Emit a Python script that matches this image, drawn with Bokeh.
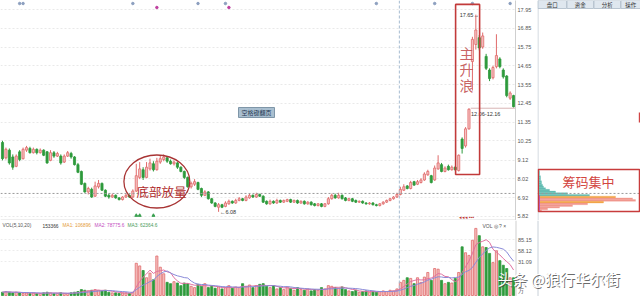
import numpy as np
import pandas as pd
from bokeh.plotting import figure
from bokeh.models import (Range1d, FixedTicker, PrintfTickFormatter, Span, Label,
                          BoxAnnotation, ColumnDataSource)
from bokeh.layouts import row, column
from bokeh.embed import file_html
from bokeh.resources import INLINE

# ---------------- data ----------------
opens = [10.15, 9.25, 9.70, 9.30, 8.75, 9.60, 9.20, 9.70, 9.80, 9.55,
         9.75, 9.55, 9.70, 9.60, 9.10, 9.55, 9.35, 9.35, 9.00, 9.35,
         9.50, 9.30, 8.85, 8.45, 7.75, 7.25, 7.40, 7.00, 7.55, 7.75,
         7.35, 7.05, 6.95, 7.05, 6.90, 6.80, 6.95, 7.05, 6.95, 7.30,
         8.10, 8.55, 8.10, 8.60, 8.90, 8.55, 9.00, 9.15, 9.25, 9.05,
         8.90, 8.95, 8.70, 8.45, 8.10, 7.55, 7.70, 7.80, 7.45, 7.05,
         7.25, 6.85, 6.60, 6.35, 6.50, 6.40, 6.55, 6.70, 6.60, 6.75,
         6.85, 6.75, 6.90, 7.05, 6.95, 7.10, 7.00, 6.70, 6.55, 6.70,
         6.60, 6.75, 6.65, 6.70, 6.80, 6.65, 6.75, 6.60, 6.70, 6.55,
         6.65, 6.55, 6.45, 6.55, 6.40, 6.55, 6.85, 7.05, 6.90, 7.05,
         6.90, 6.75, 6.85, 6.75, 6.65, 6.70, 6.60, 6.55, 6.60, 6.50,
         6.45, 6.55, 6.65, 6.75, 6.85, 6.95, 7.10, 7.35, 7.60, 7.45,
         7.85, 7.70, 7.80, 7.95, 8.25, 8.20, 7.95, 8.60, 8.85, 8.45,
         8.75, 8.55, 8.70, 8.50, 10.35, 9.95, 10.95, 14.90, 15.90, 16.30,
         15.75, 15.20, 14.40, 13.95, 14.60, 15.05, 14.40, 14.05, 12.75, 12.90]
closes = [9.20, 9.75, 8.95, 8.70, 9.35, 9.15, 9.75, 9.85, 9.55, 9.75,
          9.55, 9.70, 9.40, 8.95, 9.55, 9.35, 9.50, 8.95, 9.35, 9.55,
          9.30, 8.85, 8.40, 7.70, 7.25, 7.45, 6.95, 7.60, 7.75, 7.35,
          7.00, 6.95, 7.05, 6.90, 6.80, 6.95, 7.05, 6.95, 7.30, 8.20,
          8.60, 8.10, 8.70, 8.95, 8.55, 9.05, 9.20, 9.30, 9.05, 8.90,
          9.00, 8.70, 8.45, 8.10, 7.55, 7.75, 7.85, 7.40, 7.05, 7.25,
          6.85, 6.60, 6.40, 6.50, 6.35, 6.60, 6.70, 6.60, 6.75, 6.85,
          6.75, 6.95, 7.05, 6.95, 7.10, 7.00, 6.65, 6.55, 6.70, 6.60,
          6.75, 6.65, 6.75, 6.80, 6.65, 6.75, 6.60, 6.70, 6.55, 6.65,
          6.50, 6.45, 6.55, 6.40, 6.55, 6.85, 7.05, 6.90, 7.05, 6.85,
          6.75, 6.85, 6.70, 6.65, 6.70, 6.60, 6.55, 6.60, 6.50, 6.45,
          6.55, 6.65, 6.75, 6.85, 6.95, 7.10, 7.40, 7.55, 7.45, 7.80,
          7.65, 7.85, 7.95, 8.30, 8.45, 7.80, 8.65, 8.95, 8.45, 8.65,
          8.55, 8.70, 8.55, 9.40, 9.80, 10.95, 12.10, 16.20, 16.75, 15.70,
          16.40, 14.50, 13.90, 14.55, 15.25, 14.60, 14.00, 12.90, 13.05, 12.25]
highs = [10.25, 9.85, 9.80, 9.45, 9.45, 9.70, 9.85, 9.95, 9.90, 9.85,
         9.80, 9.80, 9.75, 9.65, 9.70, 9.65, 9.60, 9.45, 9.45, 9.65,
         9.60, 9.35, 8.95, 8.50, 7.80, 7.55, 7.50, 7.85, 7.95, 7.80,
         7.40, 7.15, 7.15, 7.10, 6.95, 7.00, 7.15, 7.10, 7.40, 8.90,
         9.00, 8.70, 9.00, 9.20, 9.05, 9.25, 9.40, 9.45, 9.35, 9.15,
         9.10, 9.00, 8.75, 8.50, 8.15, 7.85, 8.00, 7.85, 7.50, 7.35,
         7.30, 6.90, 6.65, 6.60, 6.55, 6.70, 6.80, 6.75, 6.85, 6.95,
         6.90, 7.05, 7.15, 7.10, 7.20, 7.15, 7.05, 6.75, 6.80, 6.75,
         6.85, 6.80, 6.80, 6.85, 6.85, 6.80, 6.80, 6.75, 6.75, 6.70,
         6.70, 6.60, 6.60, 6.60, 6.60, 6.95, 7.15, 7.15, 7.20, 7.10,
         6.95, 6.90, 6.90, 6.80, 6.75, 6.75, 6.65, 6.65, 6.65, 6.55,
         6.60, 6.70, 6.80, 6.90, 7.00, 7.20, 7.55, 7.70, 7.65, 7.90,
         7.90, 7.95, 8.05, 8.40, 8.55, 8.25, 8.80, 9.40, 8.95, 8.75,
         8.85, 8.80, 8.75, 9.45, 10.45, 11.05, 12.16, 16.35, 17.65, 16.45,
         16.60, 15.35, 14.50, 14.65, 16.50, 15.15, 14.50, 14.10, 13.15, 12.95]
lows = [9.10, 9.15, 8.85, 8.55, 8.70, 9.05, 9.15, 9.60, 9.50, 9.50,
        9.45, 9.50, 9.35, 8.90, 9.05, 9.25, 9.30, 8.85, 8.95, 9.30,
        9.20, 8.80, 8.35, 7.65, 7.20, 7.10, 6.90, 6.95, 7.45, 7.30,
        6.95, 6.85, 6.90, 6.85, 6.75, 6.75, 6.90, 6.90, 6.90, 7.25,
        8.00, 7.95, 8.05, 8.50, 8.45, 8.50, 8.90, 9.05, 8.95, 8.85,
        8.80, 8.60, 8.40, 8.00, 7.50, 7.45, 7.60, 7.35, 6.95, 7.00,
        6.80, 6.55, 6.35, 6.08, 6.30, 6.35, 6.50, 6.55, 6.55, 6.70,
        6.70, 6.70, 6.85, 6.90, 6.90, 6.95, 6.60, 6.50, 6.50, 6.55,
        6.55, 6.60, 6.60, 6.65, 6.60, 6.60, 6.55, 6.55, 6.50, 6.50,
        6.45, 6.40, 6.40, 6.35, 6.35, 6.50, 6.80, 6.85, 6.85, 6.80,
        6.70, 6.70, 6.65, 6.60, 6.60, 6.55, 6.50, 6.50, 6.45, 6.40,
        6.40, 6.50, 6.60, 6.70, 6.80, 6.90, 7.05, 7.30, 7.40, 7.40,
        7.60, 7.65, 7.75, 7.90, 8.20, 7.75, 7.90, 8.55, 8.40, 8.40,
        8.50, 8.50, 8.50, 8.45, 9.50, 9.85, 10.90, 13.20, 15.60, 15.55,
        15.65, 14.40, 13.75, 13.85, 14.50, 14.50, 13.90, 12.80, 12.65, 12.20]
volumes = [5, 6, 5, 4, 5, 4, 3, 4, 3, 4,
           3, 3, 4, 5, 4, 3, 3, 4, 3, 3,
           4, 5, 6, 9, 8, 7, 8, 9, 8, 7,
           8, 5, 4, 4, 3, 4, 4, 3, 5, 49,
           45, 38, 27, 34, 24, 60, 43, 33, 20, 18,
           21, 19, 15, 19, 18, 14, 12, 17, 14, 18,
           12, 14, 11, 13, 10, 12, 15, 11, 13, 12,
           18, 14, 16, 12, 15, 17, 18, 14, 12, 15,
           10, 12, 9, 13, 11, 8, 12, 9, 8, 10,
           7, 9, 8, 12, 10, 15, 14, 12, 11, 13,
           9, 7, 6, 8, 5, 6, 7, 5, 6, 5,
           6, 7, 6, 8, 7, 10, 20, 23, 27, 26,
           18, 27, 20, 28, 35, 23, 41, 40, 23, 18,
           20, 19, 26, 35, 74, 65, 61, 84, 102, 91,
           74, 73, 64, 50, 68, 53, 46, 41, 27, 27]

price_ticks = [17.95, 16.85, 15.75, 14.65, 13.55, 12.45, 11.35, 10.25, 9.12, 8.02, 6.92, 5.82]
vol_tick_labels = ["85.15", "58.12", "31.09", "万"]
vol_header = ["VOL(5,10,20)", "153366", "MA1: 106896", "MA2: 78775.6", "MA3: 62364.6"]
tab_names = ["盘口", "资金", "分析", "操作"]

chip_price = [8.45, 8.35, 8.25, 8.15, 8.05, 7.95, 7.85, 7.75, 7.65, 7.55, 7.45, 7.35,
              7.25, 7.15, 7.05, 6.95, 6.85, 6.75, 6.65, 6.55, 6.45, 6.35, 6.25, 6.15]
chip_width = [2, 2, 2, 3, 3, 3, 4, 4, 5, 6, 8, 12,
              18, 30, 52, 78, 95, 98, 66, 50, 35, 22, 10, 4]
chip_kind = ["t"] * 15 + ["o", "p", "p", "o", "p", "p", "p", "p", "p"]

event_blue = [5, 6, 38, 57, 65, 109, 126, 137, 148]
event_mag = [45, 66]
cost_line = 7.16
cursor_idx = 115.7

# ---------------- helpers for annotation placement ----------------
PX = 3.43   # pixels per candle
def ix(px):  # pixel x -> candle index
    return (px - 2) / PX
def pp(py):  # pixel y -> price
    return 18.48 - py * 0.05867
def vv(py):  # pixel y (page) -> volume units
    return (295 - py) * 1.52

n = len(closes)
idx = list(range(n))
up = [c >= o for o, c in zip(opens, closes)]
RED_FILL, RED_LINE, GREEN = "#f6c2c2", "#e06a6a", "#2e9a3c"

src = ColumnDataSource(dict(
    x=idx, high=highs, low=lows,
    top=[max(o, c) for o, c in zip(opens, closes)],
    bottom=[min(o, c) for o, c in zip(opens, closes)],
    fill=[RED_FILL if u else GREEN for u in up],
    line=[RED_LINE if u else GREEN for u in up],
    vol=volumes,
))

x0 = ix(0)
xr = Range1d(x0, x0 + 515 / PX)
yr = Range1d(pp(220), pp(0))

def box(**kw):
    return BoxAnnotation(fill_alpha=kw.pop("fill_alpha", 1), line_alpha=1, **kw)

# ---------------- price figure ----------------
p = figure(width=537, height=220, x_range=xr, y_range=yr, output_backend="svg",
           toolbar_location=None, x_axis_type=None, y_axis_location="right",
           min_border_left=0, min_border_right=22, min_border_top=0, min_border_bottom=0,
           outline_line_color=None, background_fill_color="white", border_fill_color="white")
p.yaxis.ticker = FixedTicker(ticks=price_ticks)
p.yaxis.formatter = PrintfTickFormatter(format="%.2f")
p.yaxis.major_tick_out = 0
p.yaxis.major_tick_in = 0
p.yaxis.minor_tick_line_color = None
p.yaxis.axis_line_color = "#cfcfcf"
p.yaxis.major_label_standoff = 2
p.yaxis.major_label_text_font = "Liberation Sans"
p.yaxis.major_label_text_font_size = "5.5px"
p.yaxis.major_label_text_color = "#555555"
p.ygrid.ticker = FixedTicker(ticks=price_ticks)
p.ygrid.grid_line_color = "#e9e9e9"
p.ygrid.grid_line_dash = "2 2"
p.xgrid.grid_line_color = None

p.add_layout(Span(location=cost_line, dimension="width", line_color="#9a9a9a",
                  line_dash="2 2", line_width=1))
p.add_layout(Span(location=cursor_idx, dimension="height", line_color="#a6bbd0",
                  line_dash="3 2", line_width=1))
p.add_layout(Span(location=pp(219.5), dimension="width", line_color="#dcdcdc", line_width=1))

p.segment(x0="x", y0="high", x1="x", y1="low", line_color="line", line_width=1, source=src)
p.vbar(x="x", top="top", bottom="bottom", width=0.62, fill_color="fill",
       line_color="line", line_width=0.8, source=src)

# event markers
p.scatter(x=event_blue, y=[pp(3)] * len(event_blue), size=2.5, color="#8c9fbf", marker="circle")
p.scatter(x=event_mag, y=[pp(7)] * len(event_mag), size=2.5, color="#c040a0", marker="circle")
p.scatter(x=[39, 40, 44], y=[pp(215)] * 3, size=3, color="#3aa050", marker="triangle")
p.add_layout(Label(x=133, y=pp(216), text="◂◂◂ ▪▪▪", text_font_size="5px",
                   text_color="#c03a3a", text_baseline="middle"))

# gap marker
gap_top = highs[136]
p.segment(x0=[136.5], y0=[gap_top], x1=[n - 0.6], y1=[gap_top], line_color="#d8b4b4", line_width=1)
p.add_layout(Label(x=136.6, y=pp(113), text="12.06-12.16", text_font="Liberation Sans",
                   text_font_size="5.5px", text_color="#333333", text_baseline="middle"))
imax = int(np.argmax(highs))
p.add_layout(Label(x=imax + 0.9, y=highs[imax], text="17.65→", text_font="Liberation Sans",
                   text_font_size="5.5px", text_color="#333333", text_align="right",
                   text_baseline="middle"))
imin = int(np.argmin(lows))
p.add_layout(Label(x=imin + 0.4, y=lows[imin], text="←6.08", text_font="Liberation Sans",
                   text_font_size="5.5px", text_color="#333333", text_baseline="middle"))

# main wave box
wave = (133, 138)
p.add_layout(box(left=wave[0] - 0.9, right=wave[1] + 1.1,
                 top=max(highs[wave[0]:wave[1] + 1]) + 0.6,
                 bottom=min(lows[wave[0]:wave[1] + 1]) - 0.18,
                 fill_color=None, fill_alpha=0, line_color="#c23a3a", line_width=1.6))
for ch, yy in zip("主升浪", [52, 68, 84]):
    p.add_layout(Label(x=ix(466), y=pp(yy), text=ch, text_font="Noto Sans CJK SC",
                       text_font_size="14px", text_color="#c25050", text_align="center",
                       text_baseline="middle", text_alpha=0.9))

# bottom volume ellipse
zone = (37, 53)
p.ellipse(x=[(zone[0] + zone[1]) / 2], y=[pp(181)], width=zone[1] - zone[0] + 3.2,
          height=pp(155) - pp(208), fill_color=None, line_color="#a83434", line_width=1.3)
p.add_layout(Label(x=ix(161), y=pp(191), text="底部放量", text_font="Noto Sans CJK SC",
                   text_font_size="12.5px", text_color="#b02c2c", text_align="center",
                   text_baseline="middle"))

# page button
p.add_layout(box(left=ix(238), right=ix(274), top=pp(107), bottom=pp(117),
                 fill_color="#a9bfd0", line_color="#7f96a8", line_width=1))
p.add_layout(Label(x=ix(256), y=pp(112), text="空格键翻页", text_font="Noto Sans CJK SC",
                   text_font_size="6px", text_color="#1f3550", text_align="center",
                   text_baseline="middle"))

# ---------------- chip panel ----------------
c = figure(width=103, height=220, x_range=Range1d(0, 103), y_range=yr, output_backend="svg",
           toolbar_location=None, x_axis_type=None, y_axis_type=None,
           min_border_left=0, min_border_right=0, min_border_top=0, min_border_bottom=0,
           outline_line_color=None, background_fill_color="white", border_fill_color="white")
c.xgrid.grid_line_color = None
c.ygrid.grid_line_color = None
c.add_layout(Span(location=0.5, dimension="height", line_color="#c8d0d8", line_width=1))
tab_l = [0.5, 29.5, 56.5, 83.5]
tab_r = [29.0, 56.0, 83.0, 103.0]
for l, r_, name in zip(tab_l, tab_r, tab_names):
    c.add_layout(box(left=l, right=r_, top=pp(0), bottom=pp(8), fill_color="#dfe7ef",
                     line_color="#b9c5d1", line_width=1))
    c.add_layout(Label(x=(l + r_) / 2, y=pp(4), text=name, text_font="Noto Sans CJK SC",
                       text_font_size="5.5px", text_color="#333333", text_align="center",
                       text_baseline="middle"))
c.add_layout(Span(location=cost_line, dimension="width", line_color="#9a9a9a",
                  line_dash="2 2", line_width=1))
kind_color = {"t": "#63bdb3", "o": "#f2a548", "p": "#f2988e"}
csrc = ColumnDataSource(dict(y=chip_price, right=chip_width,
                             color=[kind_color[k] for k in chip_kind]))
c.hbar(y="y", left=1.2, right="right", height=0.1, fill_color="color", line_color="color",
       line_width=0.3, source=csrc)
c.segment(x0=[1.6], y0=[min(chip_price)], x1=[1.6], y1=[cost_line - 0.1],
          line_color="#a040d0", line_width=1.2)
c.add_layout(box(left=0.8, right=102, top=pp(169), bottom=pp(211), fill_color=None,
                 fill_alpha=0, line_color="#c83c3c", line_width=1.5))
c.add_layout(Label(x=51, y=pp(181), text="筹码集中", text_font="Noto Sans CJK SC",
                   text_font_size="13px", text_color="#d2463f", text_align="center",
                   text_baseline="middle"))
c.add_layout(box(left=101.3, right=103, top=pp(112), bottom=pp(122),
                 fill_color="#d04545", line_color=None))

# ---------------- volume figure (frame spans full width) ----------------
vol_ticks = [vv(239), vv(250), vv(261), vv(290)]
vxr = Range1d(x0, x0 + 640 / PX)
v = figure(width=640, height=76, x_range=vxr, y_range=Range1d(vv(296), vv(220)),
           output_backend="svg", toolbar_location=None, x_axis_type=None, y_axis_type=None,
           min_border_left=0, min_border_right=0, min_border_top=0, min_border_bottom=0,
           outline_line_color=None, background_fill_color="white", border_fill_color="white")
v.xgrid.grid_line_color = None
v.ygrid.grid_line_color = None
x_axis_pos = ix(515.5)
v.segment(x0=[x0] * 3, y0=vol_ticks[:3], x1=[x_axis_pos] * 3, y1=vol_ticks[:3],
          line_color="#ececec", line_dash="2 2", line_width=1)
v.add_layout(Span(location=x_axis_pos, dimension="height", line_color="#cfcfcf", line_width=1))
for t, s in zip(vol_ticks, vol_tick_labels):
    v.add_layout(Label(x=ix(517.5), y=t, text=s, text_font="Liberation Sans",
                       text_font_size="5.5px", text_color="#555555", text_baseline="middle"))
v.add_layout(Span(location=cursor_idx, dimension="height", line_color="#a6bbd0",
                  line_dash="3 2", line_width=1))
v.add_layout(Span(location=ix(537.5), dimension="height", line_color="#c8d0d8", line_width=1))

v.vbar(x="x", top="vol", bottom=0, width=0.62, fill_color="fill", line_color="line",
       line_width=0.8, source=src)
vs = pd.Series(volumes, dtype=float)
v.line(idx, vs.rolling(5, min_periods=1).mean().values, line_color="#e070a0", line_width=1)
v.line(idx, vs.rolling(10, min_periods=1).mean().values, line_color="#8a8ad8", line_width=1)

hdr_x = [2, 42, 62, 94, 127]
hdr_c = ["#555555", "#333333", "#e49a3a", "#c44cc0", "#4a9a5a"]
for hx, txt, col in zip(hdr_x, vol_header, hdr_c):
    v.add_layout(Label(x=ix(hx), y=vv(225), text=txt, text_font="Liberation Sans",
                       text_font_size="4.8px", text_color=col, text_baseline="middle"))
v.add_layout(Label(x=ix(482), y=vv(225), text="VOL ◎ ? ×", text_font="Liberation Sans",
                   text_font_size="5px", text_color="#555555", text_baseline="middle"))

# watermark
v.add_layout(Label(x=ix(498), y=vv(279), text="头条 @狼行华尔街", text_font="Noto Sans CJK SC",
                   text_font_size="15px", text_color="#3a3a3a", text_alpha=0.75,
                   text_baseline="middle"))
v.add_layout(Label(x=ix(497), y=vv(278), text="头条 @狼行华尔街", text_font="Noto Sans CJK SC",
                   text_font_size="15px", text_color="#ffffff", text_baseline="middle"))

layout = column(row(p, c), v)
open("out.html", "w").write(file_html(layout, INLINE))
